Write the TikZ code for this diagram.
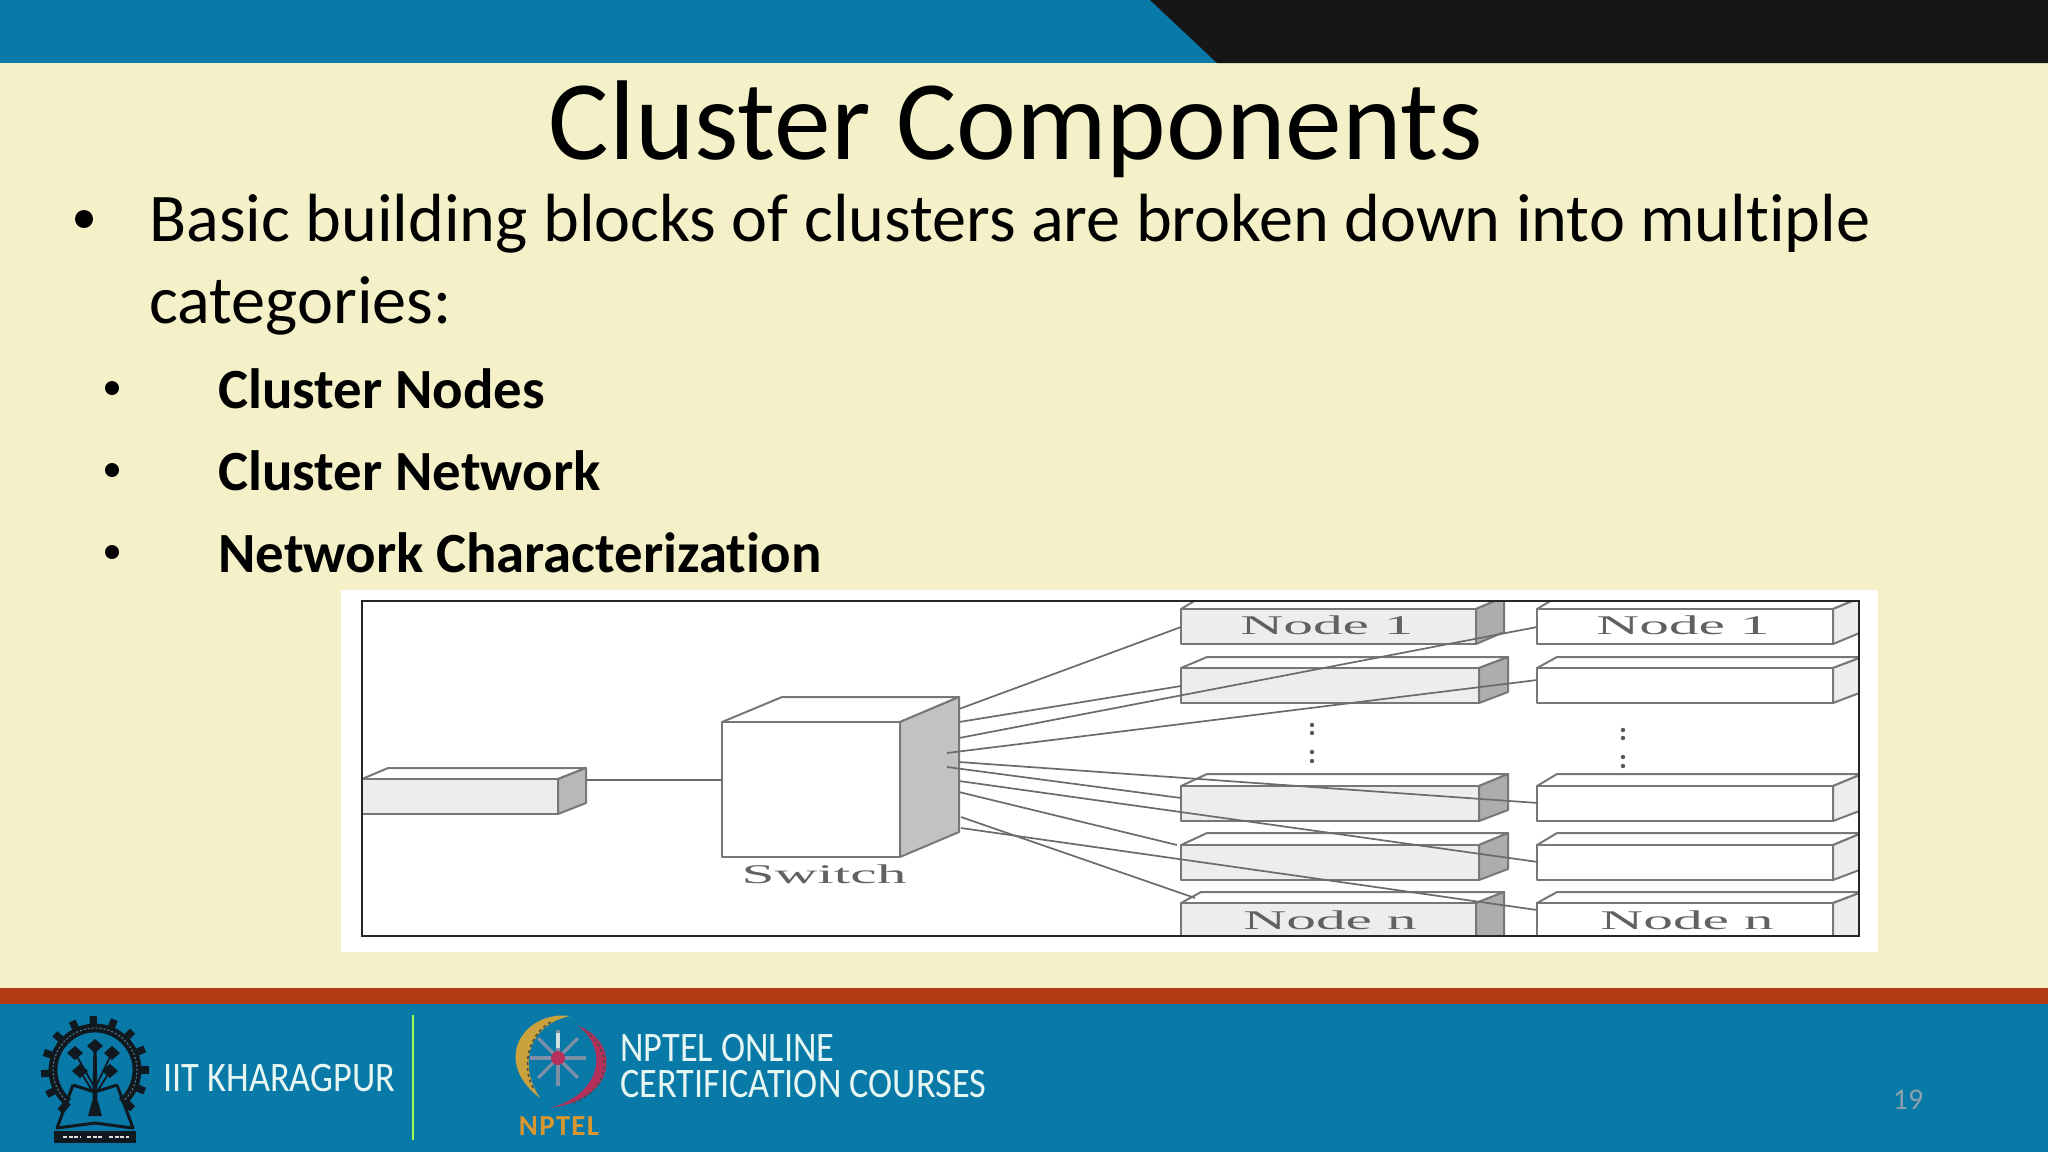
\documentclass[tikz,border=0pt]{standalone}
\usepackage{fontspec}
\setmainfont[Ligatures=CommonOff]{Carlito}
\newfontfamily\figfont[FakeStretch=2.2]{Liberation Serif}
\newfontfamily\logofont[FakeStretch=0.865,Ligatures=CommonOff]{Carlito}
\definecolor{slidebg}{HTML}{F4F1C9}
\definecolor{barblue}{HTML}{0979A8}
\definecolor{barblack}{HTML}{161616}
\definecolor{bandred}{HTML}{B23A10}
\definecolor{logotext}{HTML}{E6F6F2}
\definecolor{boxline}{HTML}{777777}
\definecolor{gold}{HTML}{C9A23E}
\definecolor{orangetxt}{HTML}{D8962E}
\definecolor{crim}{HTML}{B5305A}
\definecolor{spoke}{HTML}{7E8FA8}
\definecolor{pagenum}{HTML}{8CA0AC}
\definecolor{emblem}{HTML}{101820}
\tikzset{
  x=0.5pt,y=-0.5pt,
  titletext/.style={anchor=base,font=\fontsize{56.7}{68}\selectfont,text=black,inner sep=0},
  bodytext/.style={anchor=base west,font=\fontsize{34.1}{41}\selectfont,text=black,inner sep=0},
  subtext/.style={anchor=base west,font=\fontsize{28.4}{34}\selectfont\bfseries,text=black,inner sep=0},
  bulletdot/.style={circle,fill=black,inner sep=0,minimum size=#1},
  figlabel/.style={font=\figfont\fontsize{13.5}{15}\selectfont,text=black!62,inner sep=0},
  dotmark/.style={circle,fill=black!65,inner sep=0,minimum size=2.2pt},
  edge/.style={draw=boxline,line width=1pt,line join=round},
  wire/.style={draw=black!58,line width=0.85pt},
  logoname/.style={anchor=base west,font=\logofont\fontsize{21}{25}\selectfont,text=logotext,inner sep=0},
}
\newcommand{\slab}[9]{%
  \path[fill=white,edge] (#1,#4) -- (#8,#6) -- (#3,#6) -- (#2,#4) -- cycle;
  \path[fill=#9,edge] (#1,#4) rectangle (#2,#5);
  \path[edge,fill=\sidecol] (#2,#4) -- (#3,#6) -- (#3,#7) -- (#2,#5) -- cycle;
}
\newcommand{\sidecol}{black!28}
\begin{document}
\begin{tikzpicture}
\useasboundingbox (0,0) rectangle (2048,1152);
\fill[slidebg] (0,0) rectangle (2048,1152);
% top bar
\fill[barblue] (0,0) rectangle (2048,63);
\fill[barblack] (1150,0) -- (2048,0) -- (2048,63) -- (1217,63) -- cycle;
% bottom bands
\fill[barblue] (0,1004) rectangle (2048,1152);
\fill[bandred] (0,988) rectangle (2048,1004);
% text
\node[titletext] (title) at (1016,159) {Cluster Components};
\node[bulletdot=9pt] (b0) at (84,219) {};
\node[bulletdot=7pt] (b1) at (112,388) {};
\node[bulletdot=7pt] (b2) at (112,470) {};
\node[bulletdot=7pt] (b3) at (112,552) {};
\node[bodytext] (l1) at (149,241) {Basic building blocks of clusters are broken down into multiple};
\node[bodytext] (l2) at (149,323) {categories:};
\node[subtext] (s1) at (218,408) {Cluster Nodes};
\node[subtext] (s2) at (218,490) {Cluster Network};
\node[subtext] (s3) at (218,572) {Network Characterization};
% figure
\fill[white] (341,590) rectangle (1878,952);
\begin{scope}
\clip (362,601) rectangle (1859,936);
\slab{362}{558}{586}{779}{814}{768}{803}{388}{black!7}
\renewcommand{\sidecol}{black!24}
\slab{722}{900}{959}{722}{857}{697}{832}{782}{white}
\renewcommand{\sidecol}{black!32}
\slab{1181}{1476}{1504}{609}{644}{597}{632}{1201}{black!7}
\slab{1181}{1479}{1508}{668}{703}{657}{692}{1207}{black!7}
\slab{1181}{1479}{1508}{786}{821}{774}{810}{1207}{black!7}
\slab{1181}{1479}{1508}{845}{880}{833}{869}{1207}{black!7}
\slab{1181}{1476}{1504}{903}{960}{892}{948}{1201}{black!7}
\renewcommand{\sidecol}{black!7}
\slab{1537}{1833}{1862}{609}{644}{597}{632}{1557}{white}
\slab{1537}{1833}{1862}{668}{703}{657}{692}{1557}{white}
\slab{1537}{1833}{1862}{786}{821}{774}{810}{1557}{white}
\slab{1537}{1833}{1862}{845}{880}{833}{869}{1557}{white}
\slab{1537}{1833}{1862}{903}{960}{892}{948}{1557}{white}
\end{scope}
\node[figlabel] (sw) at (824,874) {Switch};
\node[figlabel] (n1a) at (1327,625) {Node 1};
\node[figlabel] (n1b) at (1683,625) {Node 1};
\node[figlabel] (nna) at (1330,920) {Node n};
\node[figlabel] (nnb) at (1687,920) {Node n};
\foreach \i/\px/\py in {a/1312/725,b/1312/733,c/1312/752,d/1312/761,e/1623/730,f/1623/738,g/1623/757,h/1623/766}
  \node[dotmark] (dot\i) at (\px,\py) {};
\foreach \n/\px/\py in {
  up/586/780, sw/722/780,
  oa/959/709, ob/959/722, oc/959/738, od/947/753, oe/959/762, of/947/767, og/959/781, oh/959/792, oi/961/817, oj/961/828,
  ta/1181/627, tb/1181/686, tc/1537/627, td/1537/680, te/1538/803, tf/1181/798, tg/1538/862, th/1177/845, ti/1195/898, tj/1537/910}
  \coordinate (\n) at (\px,\py);
\draw[wire] (up) -- (sw);
\draw[wire] (oa) -- (ta);
\draw[wire] (ob) -- (tb);
\draw[wire] (oc) -- (tc);
\draw[wire] (od) -- (td);
\draw[wire] (oe) -- (te);
\draw[wire] (of) -- (tf);
\draw[wire] (og) -- (tg);
\draw[wire] (oh) -- (th);
\draw[wire] (oi) -- (ti);
\draw[wire] (oj) -- (tj);
\draw[black!85,line width=1.1pt] (362,601) rectangle (1859,936);
% IIT emblem
\begin{scope}[shift={(95,1070)}]
  \foreach \a in {-230,-207,...,50}
    \draw[emblem,line width=3.6pt] (\a:42) -- (\a:54);
  \draw[emblem,line width=4.4pt] (50:42) arc (50:-230:42);
  \draw[gray!70!barblue,line width=0.5pt,dash pattern=on 1pt off 1pt] (50:42) arc (50:-230:42);
  \fill[emblem] (-1.5,-27) -- (1.5,-27) -- (2.5,30) -- (7,46) -- (-7,46) -- (-2.5,30) -- cycle;
  \foreach \dx/\dy in {0/-24, -20/-17, 17/-17, -15/1, 15/1}
    \fill[emblem] (\dx,\dy-7) -- (\dx+8,\dy) -- (\dx,\dy+7) -- (\dx-8,\dy) -- cycle;
  \draw[emblem,line width=0.9pt] (0,18) -- (-20,-17) (0,18) -- (17,-17) (0,25) -- (-15,1) (0,25) -- (15,1);
  \draw[emblem,line width=1.5pt,line join=round] (-22,15) -- (-38,58) -- (0,53) -- (38,58) -- (22,15);
  \draw[emblem,line width=1.5pt] (-22,15) -- (0,22) -- (22,15);
  \fill[emblem] (-41,61) rectangle (41,73);
  \draw[white!75!gray,line width=1pt,dash pattern=on 2pt off 0.8pt] (-32,67) -- (-15,67) (-8,67) -- (8,67) (14,67) -- (34,67);
\end{scope}
\node[logoname] (iit) at (163,1091) {IIT KHARAGPUR};
\draw[green!55!yellow!70!white,line width=1pt] (413,1015) -- (413,1140);
% NPTEL emblem
\fill[gold] (570,1016) .. controls (525,1010) and (490,1060) .. (540,1098) .. controls (518,1065) and (528,1025) .. (570,1016) -- cycle;
\draw[black!70,line width=0.8pt,dash pattern=on 1.5pt off 1.5pt] (533,1088) .. controls (521,1065) and (529,1032) .. (553,1021);
\fill[crim] (578,1026) .. controls (618,1040) and (622,1098) .. (550,1108) .. controls (600,1095) and (610,1050) .. (578,1026) -- cycle;
\draw[black!70,line width=0.8pt,dash pattern=on 1.5pt off 1.5pt] (585,1031) .. controls (612,1050) and (614,1088) .. (570,1104);
\begin{scope}[shift={(558,1058)}]
  \foreach \a in {0,45,...,315}
    \draw[spoke,line width=1.6pt] (0,0) -- (\a:28);
  \draw[logotext!80!spoke,line width=1.6pt] (0,-10) -- (0,-25);
  \fill[crim] (0,0) circle (7);
\end{scope}
\node[anchor=base,font=\fontsize{14.5}{17}\selectfont\bfseries,text=orangetxt,inner sep=0] (nptel) at (559,1135) {N\kern0.6pt P\kern0.6pt T\kern0.6pt E\kern0.6pt L};
\node[logoname] (on1) at (620,1061) {NPTEL ONLINE};
\node[logoname] (on2) at (620,1097) {CERTIFICATION COURSES};
\node[anchor=center,font=\fontsize{15}{18}\selectfont,text=pagenum,inner sep=0] (pg) at (1908,1100) {19};
\end{tikzpicture}
\end{document}
